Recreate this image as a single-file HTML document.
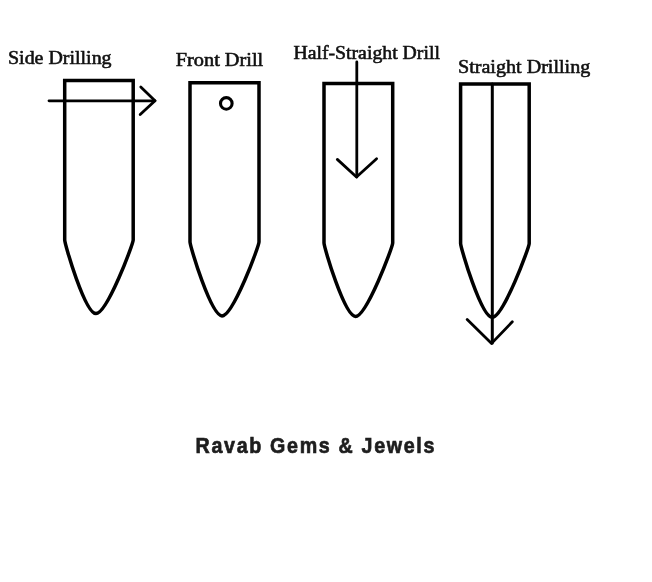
<!DOCTYPE html>
<html><head><meta charset="utf-8">
<style>
html,body{margin:0;padding:0;background:#fff;width:652px;height:582px;overflow:hidden}
svg{display:block;will-change:transform}
.lab{font-family:"Liberation Serif",serif;font-size:18.2px;fill:#111;stroke:#111;stroke-width:0.55px}
.brand{font-family:"Liberation Sans",sans-serif;font-weight:bold;font-size:22.6px;fill:#1e1e1e;stroke:#1e1e1e;stroke-width:0.7px}
</style></head><body>
<svg width="652" height="582" viewBox="0 0 652 582">
<g fill="none" stroke="#000" stroke-width="3.5" stroke-linejoin="miter" stroke-miterlimit="10">
<path d="M64.7,240.0 L64.7,80.6 L133.2,80.6 L133.2,240.0 C133.2,244.0 107.0,313.6 96.0,313.6 C85.0,313.6 64.7,244.0 64.7,240.0 Z"/>
<path d="M190.0,242.0 L190.0,82.8 L259.0,82.8 L259.0,242.0 C259.0,246.0 233.0,315.9 222.0,315.9 C211.0,315.9 190.0,246.0 190.0,242.0 Z"/>
<path d="M324.0,243.0 L324.0,83.5 L392.7,83.5 L392.7,243.0 C392.7,247.0 366.5,316.4 355.5,316.4 C344.5,316.4 324.0,247.0 324.0,243.0 Z"/>
<path d="M460.6,243.4 L460.6,84 L529.2,84 L529.2,243.4 C529.2,247.4 503.2,317.3 492.2,317.3 C481.2,317.3 460.6,247.4 460.6,243.4 Z"/>
<circle cx="226.3" cy="103.4" r="5.8" stroke-width="3.1"/>
</g>
<g fill="none" stroke="#000" stroke-width="2.8" stroke-linecap="round" stroke-linejoin="round">
  <path d="M49,100.8 L155,100.8"/>
  <path d="M140.8,87 L155,100.7 L140.2,114.6"/>
  <path d="M356.8,62 L356.8,177"/>
  <path d="M337.3,159.4 L356.5,177 L376.6,158.8"/>
  <path d="M492.3,84 L492.3,343" stroke-width="3"/>
  <path d="M467.2,319.6 L491.6,343.4 L512.3,321.8"/>
</g>
<text class="lab" x="8.0" y="64.0" textLength="103.6" lengthAdjust="spacingAndGlyphs">Side Drilling</text>
<text class="lab" x="175.8" y="66.1" textLength="87.4" lengthAdjust="spacingAndGlyphs">Front Drill</text>
<text class="lab" x="293.4" y="59.2" textLength="146.5" lengthAdjust="spacingAndGlyphs">Half-Straight Drill</text>
<text class="lab" x="458" y="72.6" textLength="132.3" lengthAdjust="spacingAndGlyphs">Straight Drilling</text>
<text class="brand" transform="translate(195.6 452.6) scale(0.87 1)" x="0" y="0" textLength="274.5" lengthAdjust="spacing">Ravab Gems &amp; Jewels</text>
</svg>
</body></html>
